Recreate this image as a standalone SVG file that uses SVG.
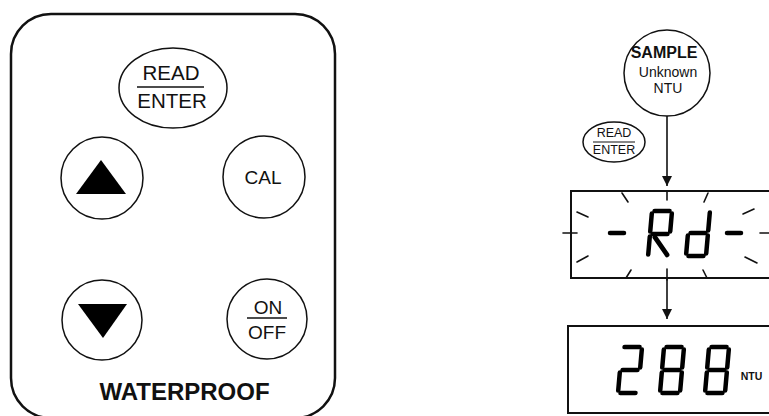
<svg xmlns="http://www.w3.org/2000/svg" width="769" height="416" viewBox="0 0 769 416">
<style>
  .ln { fill: none; stroke: #111; }
  .btn { fill: #fff; stroke: #111; stroke-width: 1.5; }
  .t { font-family: "Liberation Sans", Arial, sans-serif; fill: #111; text-anchor: middle; }
  .b { font-weight: bold; }
  .seg { fill: none; stroke: #000; stroke-width: 4.5; stroke-linecap: round; }
  .ray { fill: none; stroke: #111; stroke-width: 1.6; stroke-linecap: round; }
  .frame { fill: #fff; stroke: #111; stroke-width: 2; }
</style>
<defs>
  <path id="sa" d="M2.5,-46 H17.5"/>
  <path id="sb" d="M20,-43.5 V-25.5"/>
  <path id="sc" d="M20,-20.5 V-2.5"/>
  <path id="sd" d="M2.5,0 H17.5"/>
  <path id="se" d="M0,-20.5 V-2.5"/>
  <path id="sf" d="M0,-43.5 V-25.5"/>
  <path id="sg" d="M2.5,-23 H17.5"/>
  <path id="sr" d="M5,-20 L19,-2"/>
  <marker id="ah" viewBox="0 0 10 10" refX="10" refY="5" markerWidth="10" markerHeight="10" markerUnits="userSpaceOnUse" orient="auto">
    <path d="M0,0 L10,5 L0,10 Z" fill="#111"/>
  </marker>
</defs>
<rect width="769" height="416" fill="#fff"/>

<g id="keypad">
  <rect x="11" y="14" width="324" height="404" rx="40" ry="40" class="ln" stroke-width="2.5"/>
  <text x="184.5" y="400" class="t b" font-size="24">WATERPROOF</text>
</g>
<g id="btn-read-enter">
  <ellipse cx="173" cy="88" rx="54" ry="40" class="btn"/>
  <text x="171" y="80" class="t" font-size="20.5">READ</text>
  <line x1="137" y1="87" x2="204" y2="87" class="ln" stroke-width="1.5"/>
  <text x="172" y="108" class="t" font-size="20.5">ENTER</text>
</g>
<g id="btn-up">
  <circle cx="102" cy="178" r="41" class="btn"/>
  <polygon points="101,160 76,194 126,194" fill="#000"/>
</g>
<g id="btn-cal">
  <circle cx="264" cy="177" r="41" class="btn"/>
  <text x="263" y="183.5" class="t" font-size="19">CAL</text>
</g>
<g id="btn-down">
  <circle cx="102" cy="320" r="40" class="btn"/>
  <polygon points="78,304 127,304 103,338" fill="#000"/>
</g>
<g id="btn-onoff">
  <circle cx="267" cy="319" r="40" class="btn"/>
  <text x="268" y="314" class="t" font-size="19">ON</text>
  <line x1="247" y1="318" x2="287" y2="318" class="ln" stroke-width="1.5"/>
  <text x="267" y="339" class="t" font-size="19">OFF</text>
</g>

<g id="sample">
  <circle cx="667" cy="73" r="43" class="btn"/>
  <text x="664" y="58" class="t b" font-size="16">SAMPLE</text>
  <text x="668" y="77" class="t" font-size="14">Unknown</text>
  <text x="668" y="93" class="t" font-size="14">NTU</text>
</g>
<g id="read-enter-small">
  <ellipse cx="614" cy="142" rx="31" ry="20" class="btn"/>
  <text x="614" y="137" class="t" font-size="12.5">READ</text>
  <line x1="593" y1="142" x2="635" y2="142" class="ln" stroke-width="1.2"/>
  <text x="614" y="154" class="t" font-size="12.5">ENTER</text>
</g>

<g id="display-rd">
  <rect x="571" y="191" width="210" height="87" class="frame"/>
  <line x1="563" y1="233" x2="577" y2="233" class="ray"/>
  <line x1="760" y1="233" x2="769" y2="233" class="ray"/>
  <line x1="610" y1="233" x2="624" y2="233" class="seg" stroke-width="5"/>
  <line x1="727" y1="233" x2="741" y2="233" class="seg" stroke-width="5"/>
  <g transform="translate(648,257) skewX(-5)" class="seg">
    <use href="#sa"/><use href="#sb"/><use href="#sf"/><use href="#se"/><use href="#sg"/><use href="#sr"/>
  </g>
  <g transform="translate(686,256) skewX(-5)" class="seg">
    <use href="#sb"/><use href="#sc"/><use href="#sd"/><use href="#se"/><use href="#sg"/>
  </g>
  <line x1="622" y1="193" x2="628" y2="202" class="ray"/>
  <line x1="667" y1="191" x2="667" y2="200" class="ray"/>
  <line x1="708" y1="193" x2="704" y2="202" class="ray"/>
  <line x1="577" y1="212" x2="588" y2="217" class="ray"/>
  <line x1="577" y1="262" x2="588" y2="256" class="ray"/>
  <line x1="743" y1="214" x2="754" y2="209" class="ray"/>
  <line x1="745" y1="257" x2="757" y2="263" class="ray"/>
  <line x1="626" y1="278" x2="631" y2="270" class="ray"/>
  <line x1="667" y1="269" x2="667" y2="280" class="ray"/>
  <line x1="703" y1="270" x2="707" y2="278" class="ray"/>
</g>

<g id="display-288">
  <rect x="568" y="326" width="213" height="87" class="frame"/>
  <g transform="translate(618,393) skewX(-5)" class="seg">
    <use href="#sa"/><use href="#sb"/><use href="#sg"/><use href="#se"/><use href="#sd"/>
  </g>
  <g transform="translate(660,393) skewX(-5)" class="seg">
    <use href="#sa"/><use href="#sb"/><use href="#sc"/><use href="#sd"/><use href="#se"/><use href="#sf"/><use href="#sg"/>
  </g>
  <g transform="translate(705,393) skewX(-5)" class="seg">
    <use href="#sa"/><use href="#sb"/><use href="#sc"/><use href="#sd"/><use href="#se"/><use href="#sf"/><use href="#sg"/>
  </g>
  <text x="751.5" y="380" class="t b" font-size="10.5">NTU</text>
</g>

<g id="connectors">
  <line x1="667" y1="116" x2="667" y2="186" class="ln" stroke-width="1.6" marker-end="url(#ah)"/>
  <line x1="667" y1="278" x2="667" y2="319" class="ln" stroke-width="1.6" marker-end="url(#ah)"/>
</g>
</svg>
